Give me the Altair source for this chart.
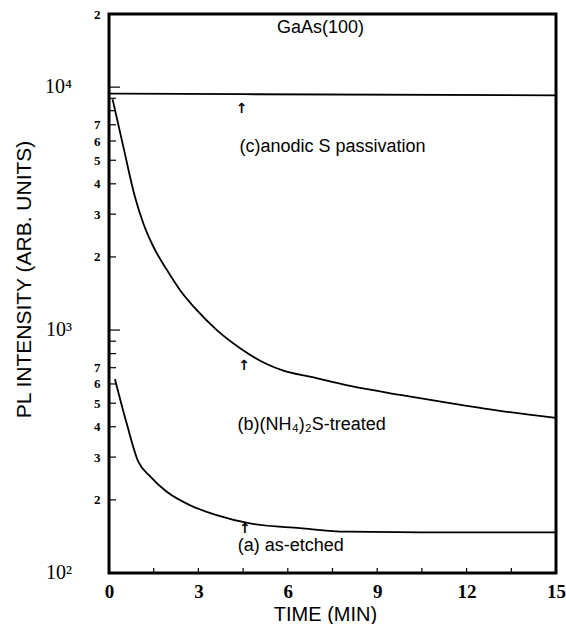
import altair as alt
import pandas as pd

# ---- data ----
c_time = [0.0, 4.5, 15.0]
c_pl = [9400, 9350, 9250]

b_time = [0.12, 0.48, 0.87, 1.15, 1.49, 1.94, 2.38, 2.94, 3.61, 4.40, 5.29, 5.85, 6.74, 8.09, 9.77, 11.44, 13.12, 15.0]
b_pl = [8910, 5690, 3540, 2754, 2203, 1770, 1463, 1210, 1002, 842, 725, 681, 643, 589, 541, 500, 465, 435]

a_time = [0.2, 0.59, 0.98, 1.38, 1.94, 2.72, 3.61, 4.73, 6.41, 7.97, 10.5, 15.0]
a_pl = [628, 414, 288, 250, 216, 190, 173, 160, 153, 148, 147, 147]

x_label_values = [0, 3, 6, 9, 12, 15]
x_tick_values = [1.5, 3, 4.5, 6, 7.5, 9, 10.5, 12, 13.5]
y_label_values = [200, 300, 400, 500, 600, 700, 2000, 3000, 4000, 5000, 6000, 7000, 20000]
y_minor_ticks = [200, 300, 400, 500, 600, 700, 800, 900, 2000, 3000, 4000, 5000, 6000, 7000, 8000, 9000]
y_major_ticks = [1000, 10000]
decade_values = [100, 1000, 10000]
decade_labels = ["10\u00b2", "10\u00b3", "10\u2074"]

ann_text = ["GaAs(100)", "(c)anodic S passivation", "(b)(NH\u2084)\u2082S-treated", "(a) as-etched"]
ann_x = [7.1, 7.5, 6.8, 6.1]
ann_y = [17500, 5670, 407, 129]

arrow_x = [4.45, 4.53, 4.56]
arrow_y = [8100, 712, 152]

W, H = 447, 559

rows = []
for s, tt, vv in [("c", c_time, c_pl), ("b", b_time, b_pl), ("a", a_time, a_pl)]:
    for t, v in zip(tt, vv):
        rows.append({"series": s, "time": t, "pl": v})
lines_df = pd.DataFrame(rows)

xscale = alt.Scale(domain=[0, 15], nice=False, zero=False)
yscale = alt.Scale(type="log", domain=[100, 20000], nice=False)

serif = "Liberation Serif"
sans = "Liberation Sans"

x_axis = alt.Axis(
    values=x_label_values, ticks=False, domain=False, grid=False,
    labelFont=serif, labelFontSize=19, labelFontWeight="bold", labelColor="black",
    labelPadding=9, labelFlush=False,
    title="TIME (MIN)", titleFont=sans, titleFontSize=20, titleFontWeight="normal",
    titleColor="black", titleX=216, titleY=41, titleBaseline="middle")
y_axis = alt.Axis(
    values=y_label_values, ticks=False, domain=False, grid=False,
    labelExpr="substring(toString(datum.value), 0, 1)",
    labelFont=serif, labelFontSize=13, labelFontWeight="bold", labelColor="black",
    labelPadding=9,
    title="PL INTENSITY (ARB. UNITS)", titleFont=sans, titleFontSize=21,
    titleFontWeight="normal", titleColor="black", titleAngle=-90,
    titleX=-85, titleY=265, titleAlign="center", titleBaseline="middle")


def X(field):
    return alt.X(field, scale=xscale, axis=x_axis, title="TIME (MIN)")


def Y(field):
    return alt.Y(field, scale=yscale, axis=y_axis, title="PL INTENSITY (ARB. UNITS)")


lines = alt.Chart(lines_df).mark_line(color="black", strokeWidth=1.8, interpolate="monotone").encode(
    x=X("time:Q"), y=Y("pl:Q"), detail="series:N")

minor_df = pd.DataFrame({"v": y_minor_ticks})
major_df = pd.DataFrame({"v": y_major_ticks})
xt_df = pd.DataFrame({"t": x_tick_values})

y_minor = alt.Chart(minor_df).mark_rule(color="black", strokeWidth=1.2).encode(
    y=Y("v:Q"), x=alt.value(0), x2=alt.value(7))
y_major = alt.Chart(major_df).mark_rule(color="black", strokeWidth=1.2).encode(
    y=Y("v:Q"), x=alt.value(0), x2=alt.value(11))
x_ticks = alt.Chart(xt_df).mark_rule(color="black", strokeWidth=1.2).encode(
    x=X("t:Q"), y=alt.value(H), y2=alt.value(H - 5))

dec_df = pd.DataFrame({"v": decade_values, "lab": decade_labels})
decades = alt.Chart(dec_df).mark_text(
    font=serif, fontSize=20, align="right", baseline="middle", color="black"
).encode(y=Y("v:Q"), x=alt.value(-37), text="lab:N")

ann_df = pd.DataFrame({"t": ann_x, "v": ann_y, "txt": ann_text})
ann = alt.Chart(ann_df).mark_text(
    font=sans, fontSize=18, align="center", baseline="middle", color="black"
).encode(x=X("t:Q"), y=Y("v:Q"), text="txt:N")

arr_df = pd.DataFrame({"t": arrow_x, "v": arrow_y, "txt": ["\u2191"] * 3})
arrows = alt.Chart(arr_df).mark_text(
    font="DejaVu Sans", fontSize=14, fontWeight="bold", align="center", baseline="middle", color="black"
).encode(x=X("t:Q"), y=Y("v:Q"), text="txt:N")

chart = alt.layer(lines, y_minor, y_major, x_ticks, decades, ann, arrows).properties(
    width=W, height=H,
    autosize=alt.AutoSizeParams(type="none"),
    padding={"left": 109, "top": 14, "right": 10, "bottom": 51},
    background="white",
).configure_view(stroke="black", strokeWidth=3)

chart.save("out.html", embed_options={"renderer": "svg", "actions": False})
